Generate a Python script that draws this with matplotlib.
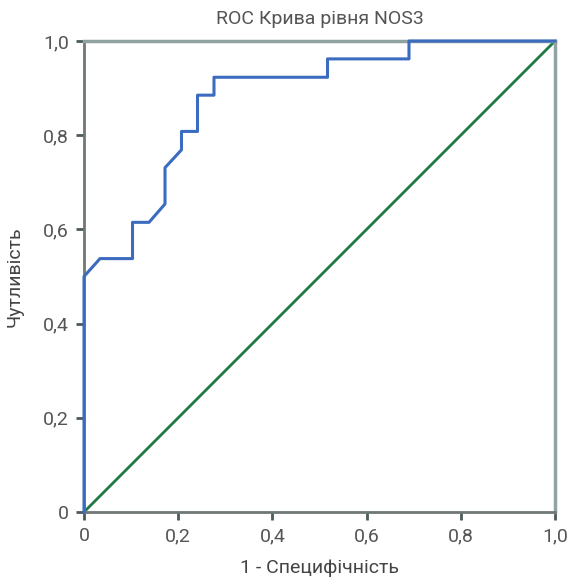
import matplotlib.pyplot as plt
from matplotlib.ticker import FuncFormatter

# ROC curve points
fpr = [0.0, 0.0, 0.034, 0.103, 0.103, 0.138, 0.172, 0.172, 0.207, 0.207,
       0.241, 0.241, 0.276, 0.276, 0.517, 0.517, 0.690, 0.690, 1.0]
tpr = [0.0, 0.500, 0.538, 0.538, 0.615, 0.615, 0.654, 0.731, 0.769, 0.808,
       0.808, 0.885, 0.885, 0.923, 0.923, 0.962, 0.962, 1.0, 1.0]
ref_line = [0.0, 1.0]
ticks = [0, 0.2, 0.4, 0.6, 0.8, 1.0]

plt.rcParams['font.family'] = ['Roboto', 'DejaVu Sans']

fig = plt.figure(figsize=(5.72, 5.79), dpi=100)
ax = fig.add_axes([84 / 572, 67 / 579, 471 / 572, 471 / 579])

ax.plot(ref_line, ref_line, color='#1e7a45', lw=2, zorder=2)
ax.plot(fpr, tpr, color='#3b6cc0', lw=2.2, zorder=3, clip_on=False)

ax.set_xlim(0, 1)
ax.set_ylim(0, 1)
ax.set_xticks(ticks)
ax.set_yticks(ticks)


def fmt(v, pos):
    if v == 0:
        return '0'
    return ('%.1f' % v).replace('.', ',')


ax.xaxis.set_major_formatter(FuncFormatter(fmt))
ax.yaxis.set_major_formatter(FuncFormatter(fmt))
ax.tick_params(direction='out', length=6, width=2, color='#4a5a5a',
               labelsize=14, labelcolor='#555555', pad=5)

for side in ['top', 'right']:
    ax.spines[side].set_color('#8fa3a3')
    ax.spines[side].set_linewidth(2.5)
for side in ['left', 'bottom']:
    ax.spines[side].set_color('#6f7777')
    ax.spines[side].set_linewidth(2)

ax.set_title('ROC Крива рівня NOS3', fontsize=14, color='#555555', pad=12)
ax.set_xlabel('1 - Специфічність', fontsize=14, color='#444444', labelpad=10)
ax.set_ylabel('Чутливість', fontsize=14, color='#444444', labelpad=14)

plt.savefig('out.png', dpi=100)
